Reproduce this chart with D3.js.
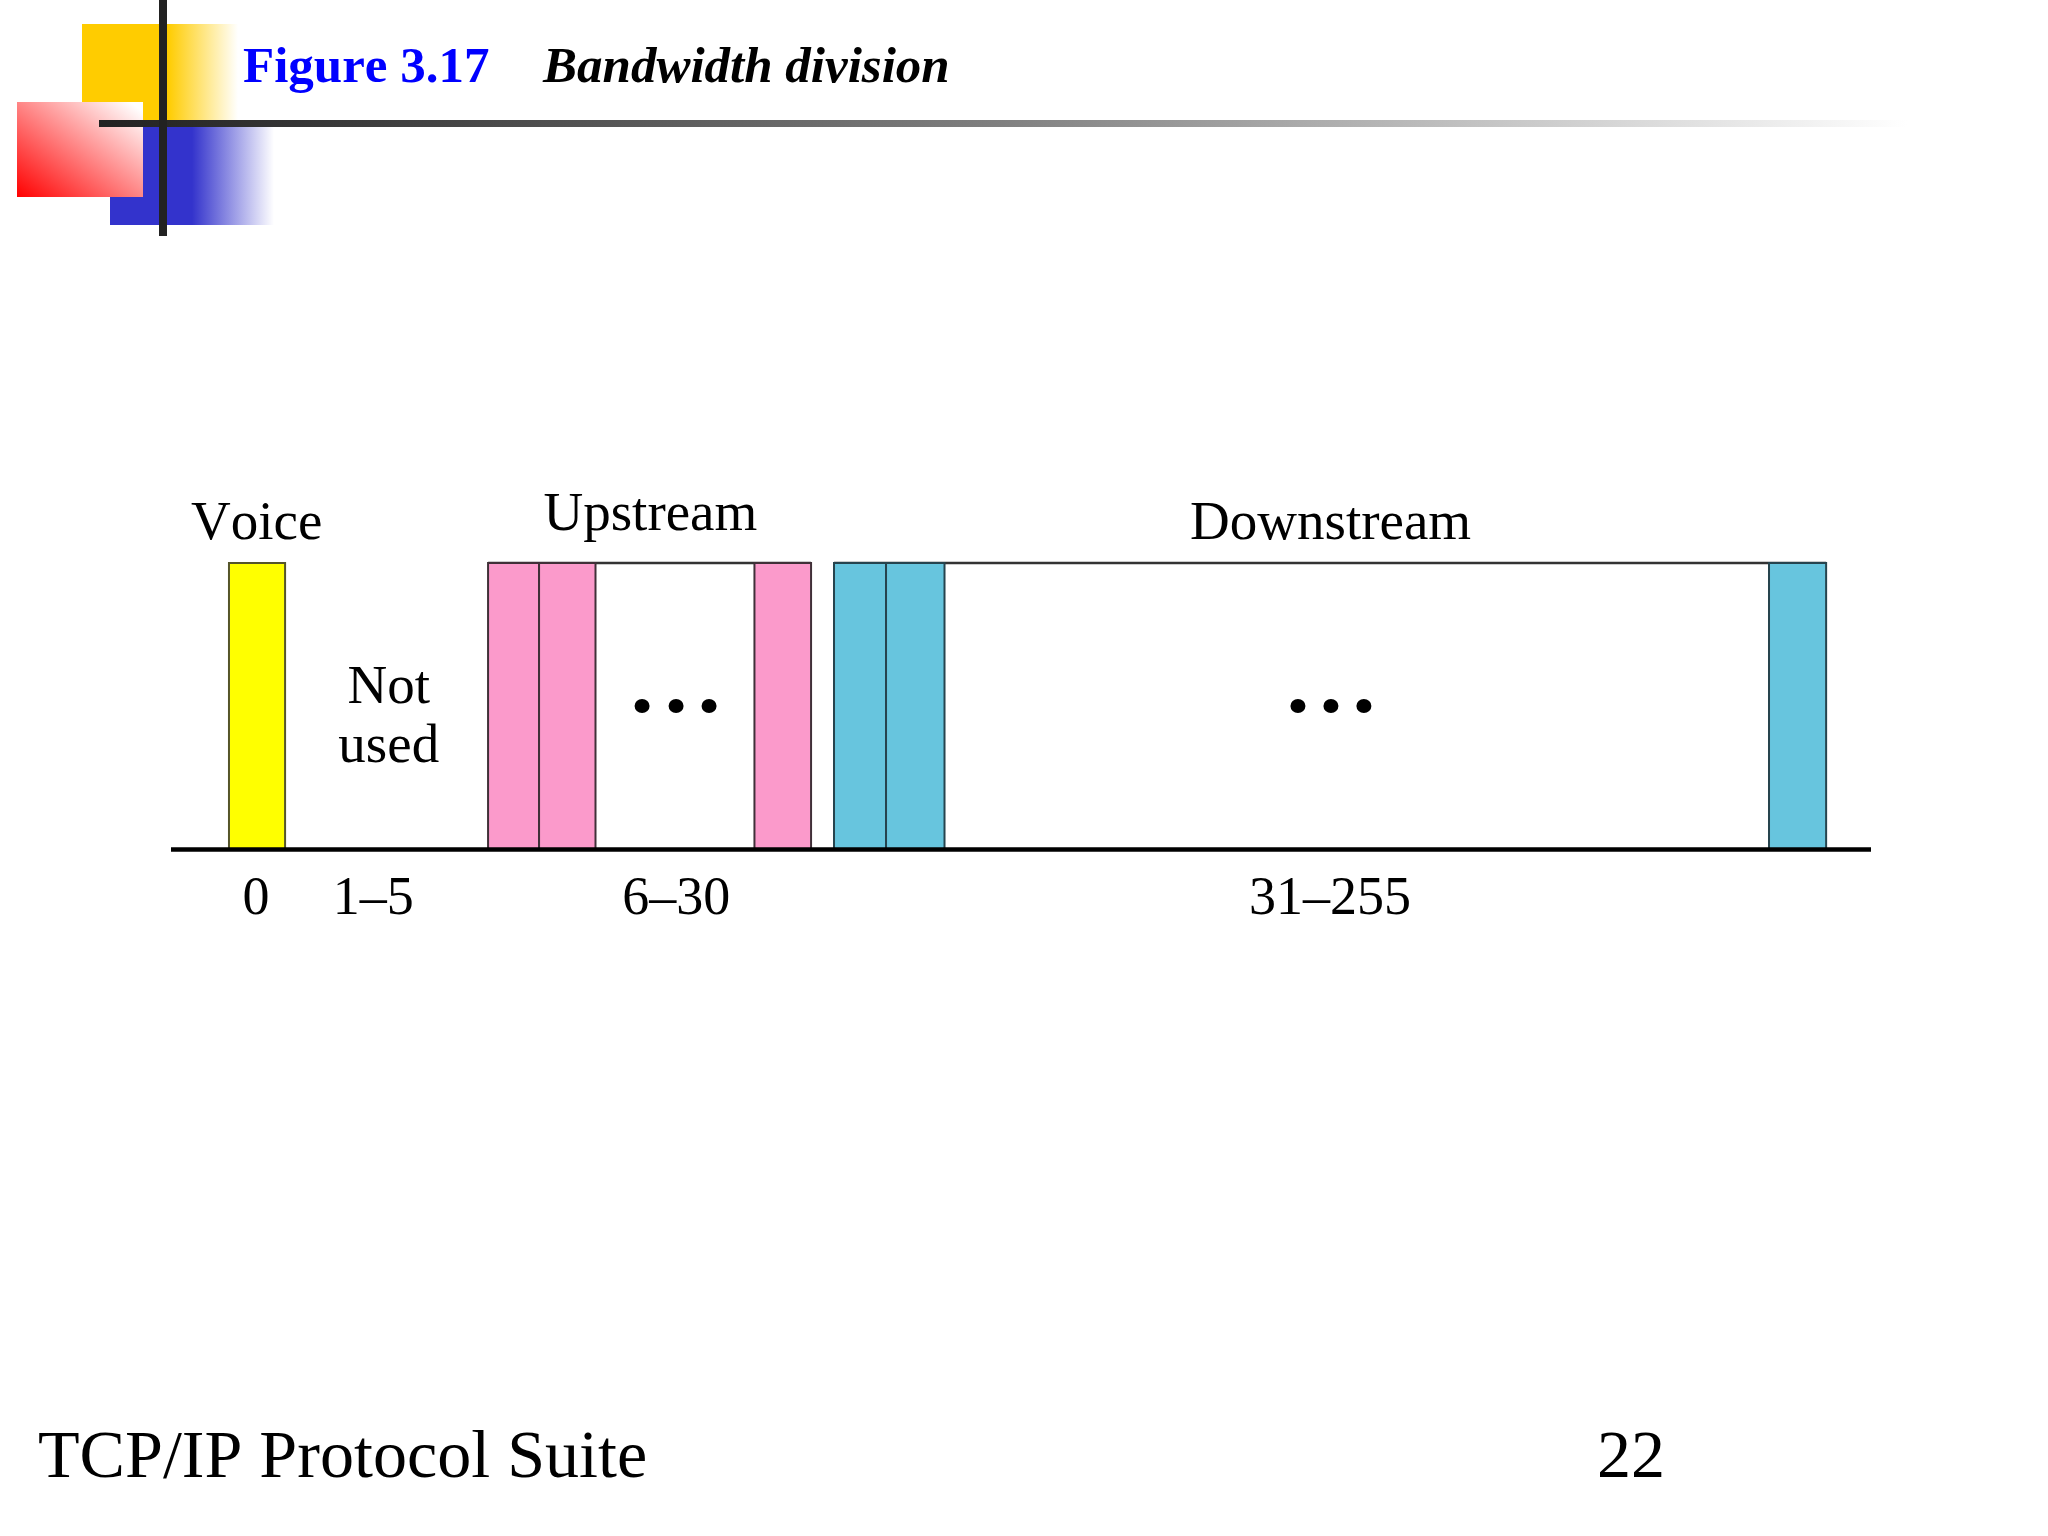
<!DOCTYPE html>
<html>
<head>
<meta charset="utf-8">
<script src="https://cdn.jsdelivr.net/npm/d3@7/dist/d3.min.js"></script>
<style>
html,body{margin:0;padding:0;background:#fff;}
svg{display:block;}
text{font-family:"Liberation Serif",serif;fill:#000;font-kerning:none;}
</style>
</head>
<body>
<div id="chart"></div>
<script>
// Channel slots along the schematic band axis (positions in schematic units, 0–1000)
const voiceSlots = [[34.4, 67.4]];
const upstreamSlots = [[186.8, 216.8], [216.8, 250], [343.5, 376.8]];
const downstreamSlots = [[390.3, 420.9], [420.9, 455.3], [940.3, 973.9]];
const upstreamExtent = [186.8, 376.8];
const downstreamExtent = [390.3, 973.9];
const upstreamDots = [277.4, 297.4, 316.8];
const downstreamDots = [663.2, 682.6, 702];
const tickPositions = [50, 119, 297.2, 681.8];
const tickLabels = ["0", "1–5", "6–30", "31–255"];
const headerLabels = ["Voice", "Upstream", "Downstream"];
const headerPositions = [50.7, 282.3, 682.4];
const notUsedLines = ["Not", "used"];
const notUsedPosition = 128.4;
const titleFigure = "Figure 3.17";
const titleCaption = "Bandwidth division";
const footerLeft = "TCP/IP Protocol Suite";
const footerRight = "22";

const W = 2048, H = 1536;
const svg = d3.select("#chart").append("svg").attr("width", W).attr("height", H).attr("viewBox", `0 0 ${W} ${H}`);
const defs = svg.append("defs");
function grad(id, stops, x1=0, y1=0, x2=1, y2=0){
  const g = defs.append("linearGradient").attr("id", id).attr("x1", x1).attr("y1", y1).attr("x2", x2).attr("y2", y2);
  stops.forEach(([o, c]) => g.append("stop").attr("offset", o).attr("stop-color", c));
}
grad("gy", [[0, "#ffcc00"], [0.55, "#ffcc00"], [1, "#ffffff"]]);
grad("gb", [[0, "#3333cc"], [0.5, "#3333cc"], [1, "#ffffff"]]);
grad("gr", [[0, "#ff0000"], [0.95, "#ffffff"], [1, "#ffffff"]], 0, 1, 1, 0);
grad("gl", [[0, "#222222"], [0.1, "#333333"], [0.5, "#808080"], [1, "#ffffff"]]);

// Slide decoration
const deco = svg.append("g");
deco.append("rect").attr("x", 82).attr("y", 24).attr("width", 156).attr("height", 96).attr("fill", "url(#gy)");
deco.append("rect").attr("x", 110).attr("y", 123).attr("width", 164).attr("height", 102).attr("fill", "url(#gb)");
deco.append("rect").attr("x", 17).attr("y", 102).attr("width", 126).attr("height", 95).attr("fill", "url(#gr)");
deco.append("rect").attr("x", 99).attr("y", 120).attr("width", 1808).attr("height", 7).attr("fill", "url(#gl)");
deco.append("rect").attr("x", 159).attr("y", 0).attr("width", 8).attr("height", 236).attr("fill", "#222222");

// Title
const title = svg.append("text").attr("y", 82).attr("font-weight", "bold");
title.append("tspan").attr("x", 243).attr("font-size", 51).attr("fill", "#0000ff").style("fill", "#0000ff").text(titleFigure);
title.append("tspan").attr("x", 543).attr("font-size", 51).attr("font-style", "italic").text(titleCaption);

// Scales
const x = d3.scaleLinear().domain([0, 1000]).range([170.5, 1870.5]);
const y = d3.scaleLinear().domain([0, 1]).range([849, 563]);

const chart = svg.append("g");
function bars(data, fill, stroke){
  chart.append("g").selectAll("rect").data(data).join("rect")
    .attr("x", d => x(d[0])).attr("width", d => x(d[1]) - x(d[0]))
    .attr("y", y(1)).attr("height", y(0) - y(1))
    .attr("fill", fill).attr("stroke", stroke).attr("stroke-width", 2);
}
// Outer frames (top rule across the "..." gap)
[upstreamExtent, downstreamExtent].forEach(e => {
  chart.append("line").attr("x1", x(e[0])).attr("x2", x(e[1])).attr("y1", y(1)).attr("y2", y(1))
    .attr("stroke", "#333333").attr("stroke-width", 2.5);
});
bars(voiceSlots, "#ffff00", "#55552a");
bars(upstreamSlots, "#fb9acb", "#403038");
bars(downstreamSlots, "#67c5de", "#26444e");

// Ellipsis dots
chart.append("g").selectAll("ellipse").data(upstreamDots).join("ellipse")
  .attr("cx", d => x(d)).attr("cy", y(0.5)).attr("rx", 7.5).attr("ry", 7).attr("fill", "#000");
chart.append("g").selectAll("ellipse").data(downstreamDots).join("ellipse")
  .attr("cx", d => x(d)).attr("cy", y(0.5)).attr("rx", 7.5).attr("ry", 7).attr("fill", "#000");

// Axis with range labels
const axis = d3.axisBottom(x).tickValues(tickPositions).tickFormat((d, i) => tickLabels[i]).tickSize(0).tickSizeOuter(0);
const gAxis = svg.append("g").attr("transform", `translate(0,${y(0)})`).call(axis);
gAxis.select(".domain").attr("stroke", "#000").attr("stroke-width", 4.5);
gAxis.selectAll("text").attr("y", 65).attr("dy", 0).attr("font-family", '"Liberation Serif",serif').attr("font-size", 54).style("fill", "#000");

// Band headers
const headerY = [539, 530, 539];
svg.append("g").selectAll("text").data(headerLabels).join("text")
  .attr("x", (d, i) => x(headerPositions[i])).attr("y", (d, i) => headerY[i])
  .attr("text-anchor", "middle").attr("font-size", 55).text(d => d);

// Not used
const notY = [703, 762];
svg.append("g").selectAll("text").data(notUsedLines).join("text")
  .attr("x", x(notUsedPosition)).attr("y", (d, i) => notY[i])
  .attr("text-anchor", "middle").attr("font-size", 55).text(d => d);

// Footer
svg.append("text").attr("x", 38).attr("y", 1477).attr("font-size", 68.1).text(footerLeft);
svg.append("text").attr("x", 1597).attr("y", 1477).attr("font-size", 68.1).text(footerRight);
</script>
</body>
</html>
